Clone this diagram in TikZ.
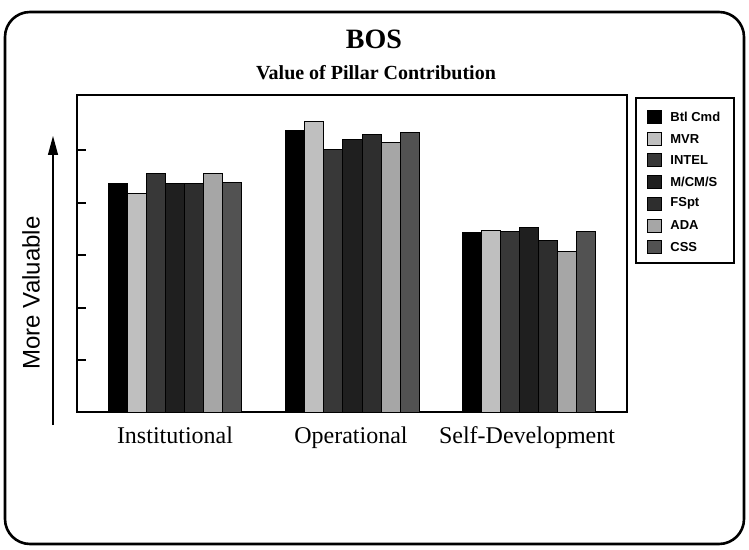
\documentclass[tikz,border=0pt]{standalone}
\usepackage{fontspec}
\setmainfont{Liberation Serif}
\setsansfont{Liberation Sans}
\usetikzlibrary{arrows.meta}
\begin{document}
\begin{tikzpicture}[x=0.5pt,y=-0.5pt,
  frame/.style={draw=black,line width=1.3pt,rounded corners=12.5pt},
  plotbox/.style={draw=black,line width=0.7pt},
  bar/.style={draw=black,line width=0.4pt},
  sA/.style={bar,fill=black},
  sB/.style={bar,fill=black!25},
  sC/.style={bar,fill=black!78},
  sD/.style={bar,fill=black!88},
  sE/.style={bar,fill=black!82},
  sF/.style={bar,fill=black!35},
  sG/.style={bar,fill=black!68},
  cat/.style={font=\fontsize{12}{14}\selectfont,inner sep=0pt,anchor=base},
  legtext/.style={font=\sffamily\bfseries\fontsize{6.5}{8}\selectfont,anchor=west,inner sep=0pt}]
\useasboundingbox (0,0) rectangle (749,550);
% outer frame
\draw[frame] (5,12) rectangle (744,544);
% titles
\node[font=\bfseries\fontsize{14}{16}\selectfont] (title) at (374,39) {BOS};
\node[font=\bfseries\fontsize{10}{12}\selectfont] (subtitle) at (376,73) {Value of Pillar Contribution};
% plot frame
\draw[plotbox] (77,95) rectangle (627,412);
\foreach \t in {150,203,255,308,360} \draw[line width=0.6pt] (77,\t) -- (86,\t);
% bars
\def\bw{19.1}
\foreach \gx/\ta/\tb/\tc/\td/\te/\tf/\tg in {108/183/193/173/183/183/173/182, 285.5/130/121/149/139/134/142/132, 462/232/230/231/227/240/251/231}{
  \draw[sA] (\gx,412) rectangle ++(\bw,\ta-412);
  \draw[sB] (\gx+\bw,412) rectangle ++(\bw,\tb-412);
  \draw[sC] (\gx+2*\bw,412) rectangle ++(\bw,\tc-412);
  \draw[sD] (\gx+3*\bw,412) rectangle ++(\bw,\td-412);
  \draw[sE] (\gx+4*\bw,412) rectangle ++(\bw,\te-412);
  \draw[sF] (\gx+5*\bw,412) rectangle ++(\bw,\tf-412);
  \draw[sG] (\gx+6*\bw,412) rectangle ++(\bw,\tg-412);
}
% category labels
\node[cat] (inst) at (175,443) {Institutional};
\node[cat] (oper) at (351,443) {Operational};
\node[cat] (self) at (527,443) {Self-Development};
% y axis arrow and label
\coordinate (abot) at (53,425);
\coordinate (atop) at (53,136);
\draw[line width=0.6pt,-{Triangle[length=9.5pt,width=5pt]}] (abot) -- (atop);
\node[rotate=90,font=\sffamily\fontsize{12}{14}\selectfont] (ylab) at (31,293) {More Valuable};
% legend
\draw[plotbox] (636,98) rectangle (734,263);
\foreach \i/\s/\lab in {0/sA/{Btl Cmd},1/sB/{MVR},2/sC/{INTEL},3/sD/{M/CM/S},4/sE/{FSpt},5/sF/{ADA},6/sG/{CSS}}{
  \pgfmathsetmacro{\yy}{117+21.7*\i}
  \draw[\s] (647,\yy-6.5) rectangle (661,\yy+6.5);
  \node[legtext] (leg\i) at (670,\yy) {\lab};
}
\end{tikzpicture}
\end{document}
